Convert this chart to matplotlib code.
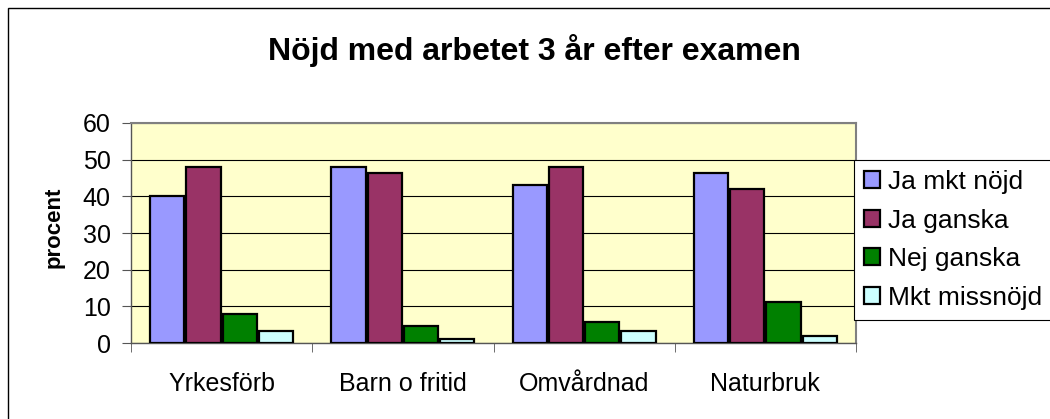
import numpy as np
import matplotlib
matplotlib.use("Agg")
import matplotlib.pyplot as plt
from matplotlib.patches import Rectangle

plt.rcParams['font.family'] = ['Liberation Sans', 'DejaVu Sans']

categories = ["Yrkesförb", "Barn o fritid", "Omvårdnad", "Naturbruk"]
series_names = ["Ja mkt nöjd", "Ja ganska", "Nej ganska", "Mkt missnöjd"]
ja_mkt = [40, 48, 43, 46.3]
ja_ganska = [48, 46.3, 48, 42]
nej_ganska = [8, 4.7, 5.8, 11.1]
mkt_missnojd = [3.2, 1.0, 3.2, 2.0]
colors = ["#9999FF", "#993366", "#008000", "#CCFFFF"]

W, H = 1050, 419
fig = plt.figure(figsize=(W / 100, H / 100), dpi=100)
fig.patch.set_facecolor("white")

# outer chart border (cut off at right and bottom like the source)
fig.patches.append(Rectangle((8 / W, -0.05), 1.2, 1.05 - 8 / H,
                             transform=fig.transFigure, fill=False,
                             edgecolor="black", linewidth=1.0))

ax = fig.add_axes([131 / W, 76 / H, 725 / W, 220 / H])
ax.set_facecolor("#FFFFCC")

x = np.arange(len(categories))
pitch = 0.2
width = 0.188
all_series = [ja_mkt, ja_ganska, nej_ganska, mkt_missnojd]
for i, vals in enumerate(all_series):
    ax.bar(x + (i - 1.5) * pitch, vals, width=width, color=colors[i],
           edgecolor="black", linewidth=1.6, label=series_names[i], zorder=3)

ax.set_xlim(-0.5, len(categories) - 0.5)
ax.set_ylim(0, 60)
ax.set_yticks(range(0, 61, 10))
ax.yaxis.grid(True, color="black", linewidth=0.8, zorder=1)
ax.set_axisbelow(True)

ax.set_xticks(x)
ax.set_xticklabels(categories, fontsize=18)
ax.set_xticks(np.arange(-0.5, len(categories), 1), minor=True)
ax.tick_params(axis="x", which="major", length=0, pad=21)
ax.tick_params(axis="x", which="minor", length=6.5, direction="out", color="#555555")
ax.tick_params(axis="y", length=6.5, direction="out", labelsize=18, pad=8, color="#555555")

for side in ["top", "right"]:
    ax.spines[side].set_color("#808080")
    ax.spines[side].set_linewidth(1.5)
for side in ["left", "bottom"]:
    ax.spines[side].set_color("#555555")
    ax.spines[side].set_linewidth(1.0)

fig.text(54 / W, 1 - 227 / H, "procent", rotation=90, ha="center", va="center",
         fontsize=16, fontweight="bold")

fig.text(534 / W, 1 - 60 / H, "Nöjd med arbetet 3 år efter examen", ha="center",
         va="baseline", fontsize=23, fontweight="bold")

leg = fig.legend(loc="upper left", bbox_to_anchor=(854 / W, 1 - 160 / H),
                 fontsize=19, frameon=True, fancybox=False, framealpha=1,
                 edgecolor="black", handlelength=0.6, handleheight=0.6,
                 handletextpad=0.3, labelspacing=0.55, borderpad=0.38,
                 borderaxespad=0)
leg.get_frame().set_linewidth(0.8)

fig.savefig("out.png", dpi=100)
